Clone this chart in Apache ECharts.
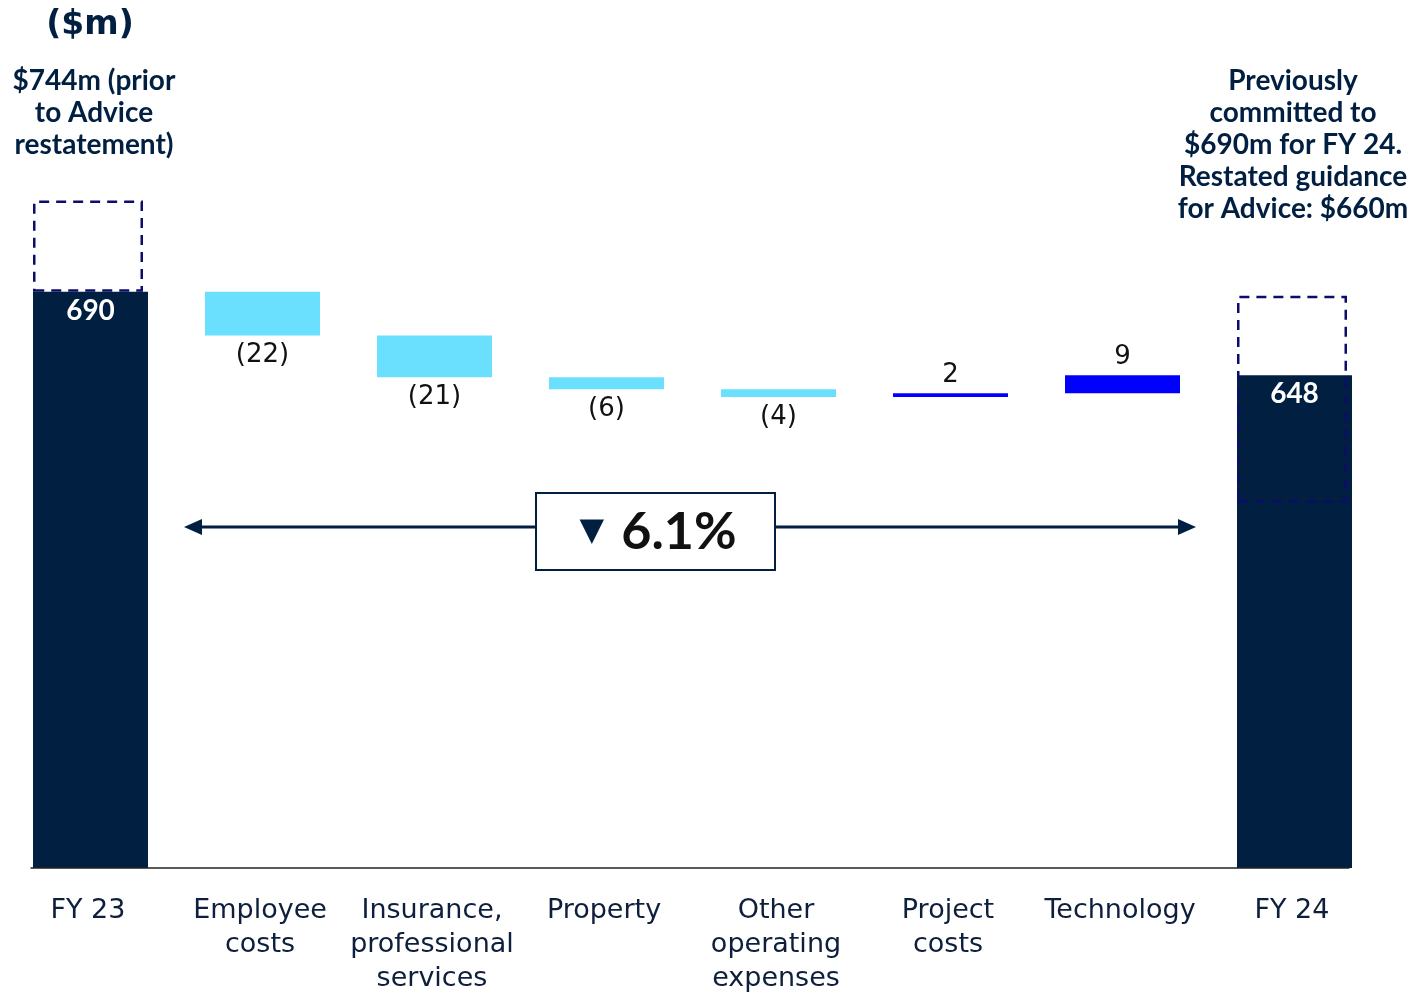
<!DOCTYPE html>
<html>
<head>
<meta charset="utf-8">
<script src="https://cdn.jsdelivr.net/npm/echarts@6/dist/echarts.min.js"></script>
<style>
  html, body { margin: 0; padding: 0; background: #fff; }
  #chart { width: 1417px; height: 993px; }
</style>
</head>
<body>
<div id="chart"></div>
<script>
// waterfall data ($m)
var categories = ['FY 23', 'Employee\ncosts', 'Insurance,\nprofessional\nservices', 'Property',
    'Other\noperating\nexpenses', 'Project\ncosts', 'Technology', 'FY 24'];
var startTotal = 690;
var endTotal = 648;
var changes = [-22, -21, -6, -4, 2, 9];
// dashed outlines (as drawn)
var priorFY23 = 736;          // "$744m (prior to Advice restatement)"
var fy24Outline = [584, 688]; // low / high of FY 24 dashed outline

var navy = '#011f40';
var cyan = '#6ae0fe';
var blue = '#0000ff';
var dashCol = '#0c0c6a';

// build stacks
var n = categories.length;
var totals = [], base = [], down = [], up = [], boxBase = [], box = [];
for (var i = 0; i < n; i++) {
    totals.push('-'); base.push('-'); down.push('-'); up.push('-'); boxBase.push('-'); box.push('-');
}
totals[0] = startTotal;
totals[n - 1] = endTotal;
var running = startTotal;
changes.forEach(function (c, k) {
    var idx = k + 1;
    if (c < 0) {
        base[idx] = running + c;
        down[idx] = -c;
    } else {
        base[idx] = running;
        up[idx] = c;
    }
    running += c;
});
boxBase[0] = startTotal;
box[0] = priorFY23 - startTotal;
boxBase[n - 1] = fy24Outline[0];
box[n - 1] = fy24Outline[1] - fy24Outline[0];

var chart = echarts.init(document.getElementById('chart'));

var boldTxt = function (text, x, y, size) {
    return {
        type: 'text',
        x: x, y: y,
        style: {
            text: text,
            fill: navy,
            font: 'bold ' + size + 'px Lato',
            align: 'center',
            verticalAlign: 'top',
            lineHeight: 32
        }
    };
};

var option = {
    backgroundColor: '#fff',
    animation: false,
    grid: { left: 2, right: 39, top: 113, bottom: 125, containLabel: false, outerBoundsMode: 'none' },
    xAxis: {
        type: 'category',
        data: categories,
        axisLine: { show: false },
        axisTick: { show: false },
        axisLabel: {
            interval: 0,
            margin: 26,
            color: '#0d1f3c',
            fontFamily: 'DejaVu Sans',
            fontSize: 27,
            lineHeight: 34
        }
    },
    yAxis: {
        type: 'value',
        min: 400,
        max: 780,
        show: false,
        splitLine: { show: false }
    },
    series: [{
        name: 'total',
        type: 'bar',
        barWidth: 115,
        barGap: '-100%',
        itemStyle: { color: navy },
        label: {
            show: true,
            position: 'insideTop',
            distance: 5,
            color: '#fff',
            fontFamily: 'Lato',
            fontWeight: 'bold',
            fontSize: 28
        },
        data: totals
    }, {
        name: 'base',
        type: 'bar',
        stack: 'w',
        barWidth: 115,
        barGap: '-100%',
        itemStyle: { color: 'rgba(0,0,0,0)' },
        data: base
    }, {
        name: 'decrease',
        type: 'bar',
        stack: 'w',
        barWidth: 115,
        barGap: '-100%',
        itemStyle: { color: cyan },
        label: {
            show: true,
            position: 'bottom',
            distance: 7,
            color: '#111',
            fontFamily: 'DejaVu Sans',
            fontSize: 26,
            formatter: function (p) { return '(' + p.value + ')'; }
        },
        data: down
    }, {
        name: 'increase',
        type: 'bar',
        stack: 'w',
        barWidth: 115,
        barGap: '-100%',
        itemStyle: { color: blue },
        label: {
            show: true,
            position: 'top',
            distance: 5,
            color: '#111',
            fontFamily: 'DejaVu Sans',
            fontSize: 26
        },
        data: up
    }, {
        name: 'boxBase',
        type: 'bar',
        stack: 'd',
        barWidth: 110,
        barGap: '-100%',
        itemStyle: { color: 'rgba(0,0,0,0)' },
        data: boxBase
    }, {
        name: 'outline',
        type: 'bar',
        stack: 'd',
        barWidth: 110,
        barGap: '-100%',
        z: 5,
        itemStyle: {
            color: 'rgba(0,0,0,0)',
            borderColor: dashCol,
            borderWidth: 2.5,
            borderType: [10, 7]
        },
        data: box
    }],
    graphic: [
        {
            type: 'text', x: 90, y: 9,
            style: { text: '($m)', fill: navy, font: 'bold 33px "DejaVu Sans"', align: 'center', verticalAlign: 'top' }
        },
        boldTxt('$744m (prior\nto Advice\nrestatement)', 94, 65, 28),
        boldTxt('Previously\ncommitted to\n$690m for FY 24.\nRestated guidance\nfor Advice: $660m', 1293, 65, 28),
        // change arrow
        { type: 'line', shape: { x1: 198, y1: 527, x2: 1182, y2: 527 }, style: { stroke: navy, lineWidth: 3 } },
        { type: 'polygon', shape: { points: [[184, 527], [202, 519], [202, 535]] }, style: { fill: navy } },
        { type: 'polygon', shape: { points: [[1196, 527], [1178, 519], [1178, 535]] }, style: { fill: navy } },
        {
            type: 'rect', shape: { x: 536, y: 493, width: 239, height: 77 },
            style: { fill: '#fff', stroke: navy, lineWidth: 2 }
        },
        {
            type: 'text', x: 658, y: 532,
            style: {
                text: '{t|▼} {p|6.1%}',
                align: 'center',
                verticalAlign: 'middle',
                rich: {
                    t: { fill: navy, font: '32px "DejaVu Sans"', padding: [0, 14, 0, 0] },
                    p: { fill: '#111', font: 'bold 52px Lato' }
                }
            }
        }
    ]
};

chart.setOption(option);

// baseline spanning the bars
var half = 115 / 2;
var xl = chart.convertToPixel({ xAxisIndex: 0 }, 0) - half;
var xr = chart.convertToPixel({ xAxisIndex: 0 }, n - 1) + half;
var yb = chart.convertToPixel({ yAxisIndex: 0 }, 400);
chart.setOption({
    graphic: option.graphic.concat([{
        type: 'line', z: 10,
        shape: { x1: xl, y1: yb, x2: xr, y2: yb },
        style: { stroke: '#222', lineWidth: 1.5 }
    }])
});
</script>
</body>
</html>
